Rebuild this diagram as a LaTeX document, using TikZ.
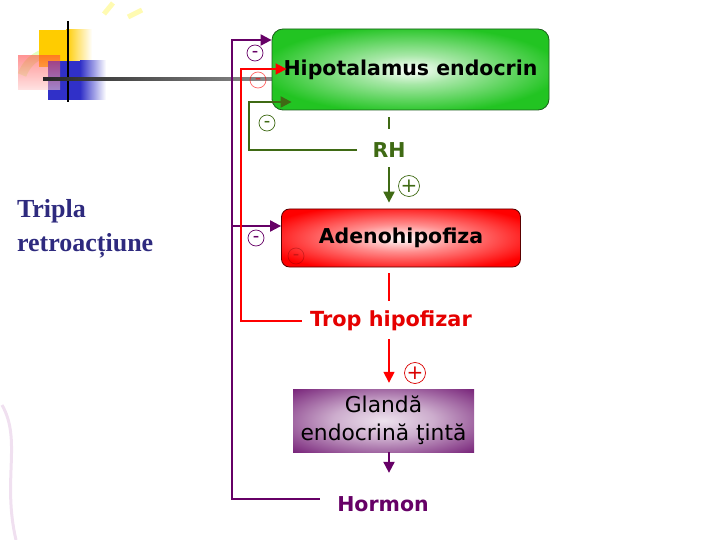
\documentclass[tikz,border=0pt]{standalone}
\usepackage{fontspec}
\setmainfont{DejaVu Sans}
\newfontfamily\seriffont{Liberation Serif}
\usetikzlibrary{arrows.meta}

\definecolor{verde}{HTML}{22C422}
\definecolor{verdemargine}{HTML}{1A5E1A}
\definecolor{verdeinchis}{HTML}{3F6A14}
\definecolor{rosu}{HTML}{FF0000}
\definecolor{rosumargine}{HTML}{5A0000}
\definecolor{purpuriu}{HTML}{660066}
\definecolor{purpuriucutie}{HTML}{6E1470}
\definecolor{indigo}{HTML}{2E2A7E}
\definecolor{galben}{HTML}{FFCC00}
\definecolor{albastru}{HTML}{3030C8}

\pgfdeclareradialshading{glowverde}{\pgfpoint{0bp}{0bp}}{color(0bp)=(white); color(9bp)=(white!60!verde); color(27bp)=(verde); color(75bp)=(verde)}
\pgfdeclareradialshading{glowrosu}{\pgfpoint{0bp}{0bp}}{color(0bp)=(white); color(12bp)=(white!55!rosu); color(30bp)=(rosu); color(75bp)=(rosu)}
\pgfdeclareradialshading{glowpurpuriu}{\pgfpoint{0bp}{0bp}}{color(0bp)=(white!88!purpuriucutie); color(14bp)=(white!65!purpuriucutie); color(38bp)=(purpuriucutie); color(75bp)=(purpuriucutie!80!black)}

\begin{document}
\begin{tikzpicture}[x=1pt, y=-1pt,
  >={Triangle[length=11pt, width=11pt]},
  cutie/.style={inner sep=0pt, align=center, shade},
  semn/.style={circle, draw, line width=0.7pt, minimum size=16pt, inner sep=0pt, font=\bfseries\fontsize{12}{12}\selectfont},
  semnplus/.style={circle, draw, line width=0.7pt, minimum size=21pt, inner sep=0pt, font=\fontsize{20}{20}\selectfont},
  eticheta/.style={font=\bfseries\fontsize{20.5}{24}\selectfont},
  linpurpuriu/.style={draw=purpuriu, line width=2pt},
  linrosu/.style={draw=rosu, line width=1.6pt},
  linverde/.style={draw=verdeinchis, line width=2pt}]
  \useasboundingbox (0,0) rectangle (720,540);
  % fundal
  \draw[green!40!yellow, opacity=0.25, line width=9pt] (22,75) arc (200:330:36);
  \draw[yellow, opacity=0.3, line width=5pt] (104,14) -- (113,3);
  \draw[yellow, opacity=0.3, line width=5pt] (128,17) -- (142,10);
  \draw[violet!30, opacity=0.4, line width=3pt] (2,405) .. controls (22,440) and (2,480) .. (16,540);
  % sigla
  \fill[galben] (39,30) rectangle (66,67);
  \shade[left color=galben, right color=white] (66,30) rectangle (92,67);
  \fill[albastru] (48,61) rectangle (80,100);
  \shade[left color=albastru, right color=white] (80,61) rectangle (106,100);
  \shade[top color=rosu!75, bottom color=rosu!20, opacity=0.55] (18,56) rectangle (60,90);
  \draw[black, line width=1.6pt] (68,21) -- (68,102);
  \shade[left color=black!85, right color=black!45] (43,77.6) rectangle (272,80.4);
  % titlu
  \node[anchor=north west, align=left, text=indigo,
        font=\seriffont\bfseries\fontsize{26}{33.5}\selectfont] (titlu) at (13.5,196) {Tripla\\retroacțiune};
  % cutii
  \node[cutie, shading=glowverde, draw=verdemargine, line width=0.8pt, rounded corners=11pt,
        minimum width=277pt, minimum height=81pt, eticheta] (hip) at (410.5,69.5) {Hipotalamus endocrin};
  \node[cutie, shading=glowrosu, draw=rosumargine, line width=0.8pt, rounded corners=8pt,
        minimum width=239pt, minimum height=58pt, eticheta] (adeno) at (401,238) {Adenohipofiza};
  \node[cutie, shading=glowpurpuriu, minimum width=181pt, minimum height=63pt,
        font=\fontsize{21.8}{28}\selectfont] (glanda) at (383.5,420.5) {Glandă\\endocrină ţintă};
  % etichete
  \node[eticheta, text=verdeinchis] (rh) at (389,150) {RH};
  \node[eticheta, text=rosu!90!black, font=\bfseries\fontsize{20.8}{24}\selectfont] (trop) at (391,321) {Trop hipofizar};
  \node[eticheta, text=purpuriu] (hormon) at (383,504) {Hormon};
  % coltari
  \coordinate (pSus) at (232,40);
  \coordinate (pMij) at (232,226);
  \coordinate (rSus) at (241,69);
  \coordinate (gSus) at (249,102);
  % cale directa
  \draw[linverde, line width=1.4pt, shorten <=7pt, shorten >=9.5pt] (hip.south -| rh) -- (rh.north);
  \draw[linverde, ->, shorten <=6pt, shorten >=6pt] (rh.south) -- (rh.south |- adeno.north);
  \draw[linrosu, shorten <=6pt, shorten >=6.5pt] (adeno.south -| rh) -- (trop.north -| rh);
  \draw[linrosu, ->, shorten <=4.5pt, shorten >=6pt] (trop.south -| rh) -- (glanda.north -| rh);
  \draw[linpurpuriu, ->, shorten >=20pt] (glanda.south -| rh) -- (hormon.north -| rh);
  % retroactiuni
  \draw[linpurpuriu, ->] ([xshift=-14pt, yshift=5pt]hormon.west) -| (pSus) -- (pSus -| hip.west);
  \draw[linpurpuriu, ->] (pMij) -- (pMij -| adeno.west);
  \draw[linrosu, ->] ([xshift=-5pt]trop.west) -| (rSus) -- ([xshift=15pt]rSus -| hip.west);
  \draw[linverde, ->] ([xshift=-12pt]rh.west) -| (gSus) -- ([xshift=20pt]gSus -| hip.west);
  % semne
  \node[semn, purpuriu] (m1) at (255,53) {–};
  \node[semn, rosu, opacity=0.6] (m2) at (258,80) {–};
  \node[semn, verdeinchis] (m3) at (267,123) {–};
  \node[semn, purpuriu] (m4) at (256,238) {–};
  \node[semn, rosumargine, opacity=0.3] (m5) at (296,256) {–};
  \node[semnplus, verdeinchis] (p1) at (409,186) {+};
  \node[semnplus, rosu!85!black] (p2) at (415,373) {+};
\end{tikzpicture}
\end{document}
